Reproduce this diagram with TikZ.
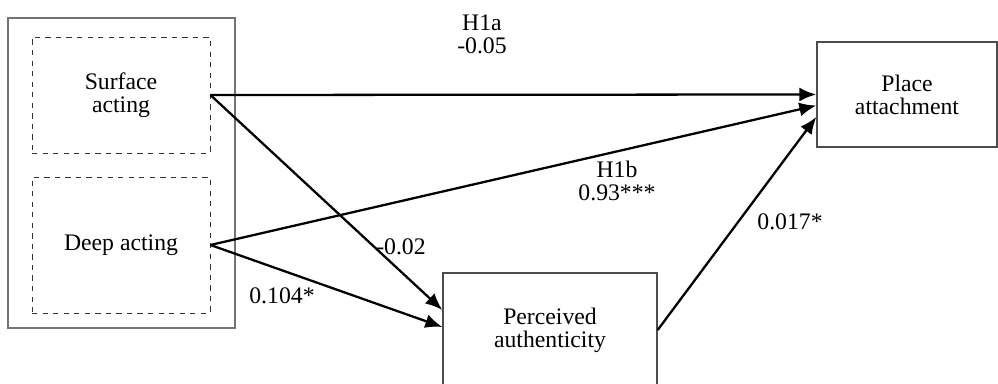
\documentclass[tikz,border=0pt]{standalone}
\usepackage{fontspec}
\setmainfont{Liberation Serif}
\usetikzlibrary{arrows.meta}
\tikzset{
	groupstyle/.style={rectangle,draw=black!55,line width=0.7pt,minimum width=4.54cm,minimum height=6.2cm},
	dimstyle/.style={rectangle,draw=black!80,dashed,line width=0.5pt,minimum width=3.56cm,align=center},
	boxstyle/.style={rectangle,draw=black!70,line width=0.8pt,align=center},
	pathstyle/.style={line width=1.3pt,-{Latex[length=3.4mm,width=2.8mm]}},
	labelstyle/.style={align=center}
}

\begin{document}
\begin{tikzpicture}[x=0.02cm,y=-0.02cm]
		\fontsize{13.5}{13}\selectfont
		\useasboundingbox (0,0) rectangle (998,384);
		\clip (0,0) rectangle (998,384);
		\node[groupstyle] (acting) at (121.5,173) {};
		\node[dimstyle,minimum height=2.32cm] (surface) at (121,95) {Surface\\acting};
		\node[dimstyle,minimum height=2.72cm] (deep) at (121,245) {Deep acting};
		\node[boxstyle,minimum width=3.6cm,minimum height=2.1cm] (place) at (907,94.5) {Place\\attachment};
		\node[boxstyle,minimum width=4.28cm,minimum height=2.28cm] (perceived) at (550,330) {Perceived\\authenticity};
		\draw[pathstyle] (surface.east) -- (place.west);
		\draw[pathstyle] (surface.east) -- ([yshift=0.4cm]perceived.west);
		\draw[pathstyle] (deep.east) -- ([yshift=-0.22cm]place.west);
		\draw[pathstyle] (deep.east) -- ([yshift=0.06cm]perceived.west);
		\draw[pathstyle] (perceived.east) -- ([yshift=-0.45cm]place.west);
		\node[labelstyle] (h1a) at (482,34) {H1a\\-0.05};
		\node[labelstyle] (h1b) at (617,181) {H1b\\0.93***};
		\node[labelstyle] (surfperc) at (401,247) {-0.02};
		\node[labelstyle] (deepperc) at (282,296) {0.104*};
		\node[labelstyle] (percplace) at (790,222) {0.017*};
		\end{tikzpicture}
\end{document}
